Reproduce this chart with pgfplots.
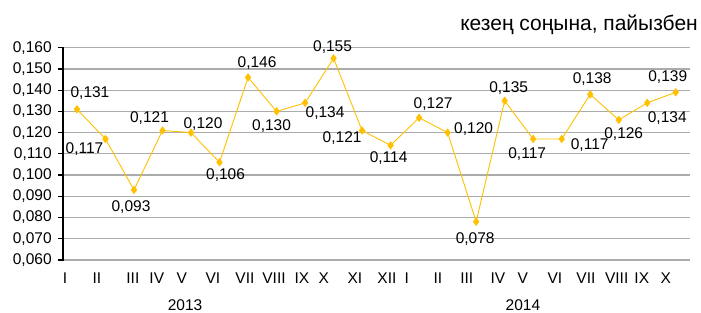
\documentclass[border=0pt]{standalone}
\usepackage{fontspec}
\setmainfont{Liberation Sans}
\usepackage{pgfplots}
\pgfplotsset{compat=1.18}
\usepackage{pgfplotstable}
\definecolor{gold}{HTML}{FFC000}
\definecolor{gridc}{HTML}{ABABAB}
\pgfplotstableread{
x y dx dy lab
0 0.131 13 16 0,131
1 0.117 -21 -10 0,117
2 0.093 -3 -17 0,093
3 0.121 -13 12 0,121
4 0.120 12 9 0,120
5 0.106 6 -13 0,106
6 0.146 9 14 0,146
7 0.130 -5 -15 0,130
8 0.134 20 -10 0,134
9 0.155 -1 11 0,155
10 0.121 -20 -8 0,121
11 0.114 -2 -13 0,114
12 0.127 14 14 0,127
13 0.120 26 4 0,120
14 0.078 -1 -17 0,078
15 0.135 4 13 0,135
16 0.117 -6 -15 0,117
17 0.117 28 -6 0,117
18 0.138 2 15 0,138
19 0.126 5 -14 0,126
20 0.134 20 -15 0,134
21 0.139 -8 15 0,139
}\datatable
\begin{document}
\begin{tikzpicture}[x=1pt,y=1pt]
\useasboundingbox (0,0) rectangle (701,313);
\fontsize{15.5}{18}\selectfont
\begin{axis}[
  at={(63pt,53pt)}, anchor=south west,
  scale only axis, width=627pt, height=212.3pt,
  xmin=-0.49, xmax=21.5, ymin=0.06, ymax=0.16,
  clip=false,
  axis line style={draw=none},
  ytick={0.06,0.07,0.08,0.09,0.10,0.11,0.12,0.13,0.14,0.15,0.16},
  yticklabels={{0,060},{0,070},{0,080},{0,090},{0,100},{0,110},{0,120},{0,130},{0,140},{0,150},{0,160}},
  xtick={-0.42,0.70,1.96,2.80,3.68,4.77,5.89,6.91,7.89,8.66,9.75,10.87,11.57,12.66,13.67,14.76,15.64,16.76,17.85,18.93,19.81,20.65},
  xticklabels={I,II,III,IV,V,VI,VII,VIII,IX,X,XI,XII,I,II,III,IV,V,VI,VII,VIII,IX,X},
  major tick length=0pt,
  ymajorgrids, grid style={gridc, line width=1.3pt},
  tick label style={font=\fontsize{15.5}{18}\selectfont},
  xticklabel style={anchor=center, yshift=-18pt},
  yticklabel style={anchor=east, xshift=-6pt},
]
\addplot[gold, line width=0.9pt, mark=diamond*, mark size=3.5pt,
  mark options={fill=gold, draw=gold},
  point meta=explicit symbolic,
  visualization depends on={\thisrow{dx} \as \dx},
  visualization depends on={\thisrow{dy} \as \dy},
  nodes near coords={\pgfplotspointmeta},
  every node near coord/.append style={anchor=center, text=black, xshift=\dx pt, yshift=\dy pt, font=\fontsize{15.5}{18}\selectfont},
] table[x=x, y=y, meta=lab] {\datatable};
\node[inner sep=0pt] at (axis cs:3.79,0.0388) {2013};
\node[inner sep=0pt] at (axis cs:15.64,0.0388) {2014};
\end{axis}
\draw[black, line width=1.5pt] (63,52.3) -- (63,266);
\foreach \k in {0,...,10} {
  \draw[black, line width=1.3pt] (57.5,53+21.23*\k) -- (63,53+21.23*\k);
}
\node[anchor=east, inner sep=0pt] at (698,288) {\fontsize{21}{24}\selectfont кезең соңына, пайызбен};
\end{tikzpicture}
\end{document}
